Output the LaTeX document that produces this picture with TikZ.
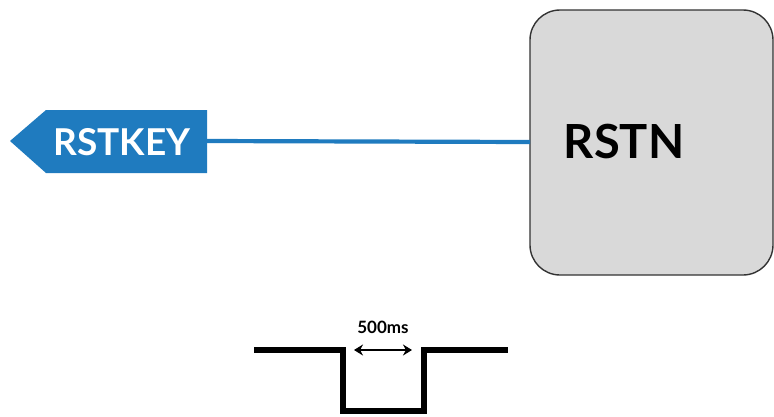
\documentclass[tikz,border=0pt]{standalone}
\usepackage{fontspec}
\setmainfont{Lato}
\usetikzlibrary{arrows.meta}
\definecolor{keyblue}{HTML}{1F7BBF}
\definecolor{boxgray}{HTML}{D9D9D9}
\definecolor{boxedge}{HTML}{333333}
\tikzset{
  wire/.style={keyblue, line width=4.2pt},
  wave/.style={black, line width=5.5pt, line join=miter},
  dim/.style={black, line width=2.4pt, {Stealth[length=9pt,width=11pt]}-{Stealth[length=9pt,width=11pt]}},
  blocktext/.style={font=\bfseries\fontsize{47}{50}\selectfont, text=black},
}
\begin{document}
\begin{tikzpicture}[x=1pt,y=-1pt]
\useasboundingbox (0,0) rectangle (774,416);
% RSTN block
\draw[boxedge, line width=1.4pt, fill=boxgray, rounded corners=30pt] (530,10) rectangle (773,275);
\node[blocktext, anchor=center] (rstn) at (624,142) {RSTN};
\coordinate (rstnin) at (530,142);
% RSTKEY port
\fill[keyblue] (10,141) -- (46,110) -- (207,110) -- (207,173) -- (46,173) -- cycle;
\node[font=\bfseries\fontsize{37}{41}\selectfont, text=white] (rstkey) at (122,142) {RSTKEY};
\coordinate (keyout) at (207,141);
\draw[wire] (keyout) -- (rstnin);
% waveform
\coordinate (w0) at (254,350);
\coordinate (w1) at (343,350);
\coordinate (w2) at (343,411);
\coordinate (w3) at (424,411);
\coordinate (w4) at (424,350);
\coordinate (w5) at (508,350);
\draw[wave] (w0) -- (w1) -- (w2) -- (w3) -- (w4) -- (w5);
\coordinate (a0) at (354,350);
\coordinate (a1) at (412,350);
\draw[dim] (a0) -- (a1);
\node[font=\bfseries\fontsize{17}{19}\selectfont] (lbl) at (383,327) {500ms};
\end{tikzpicture}
\end{document}
